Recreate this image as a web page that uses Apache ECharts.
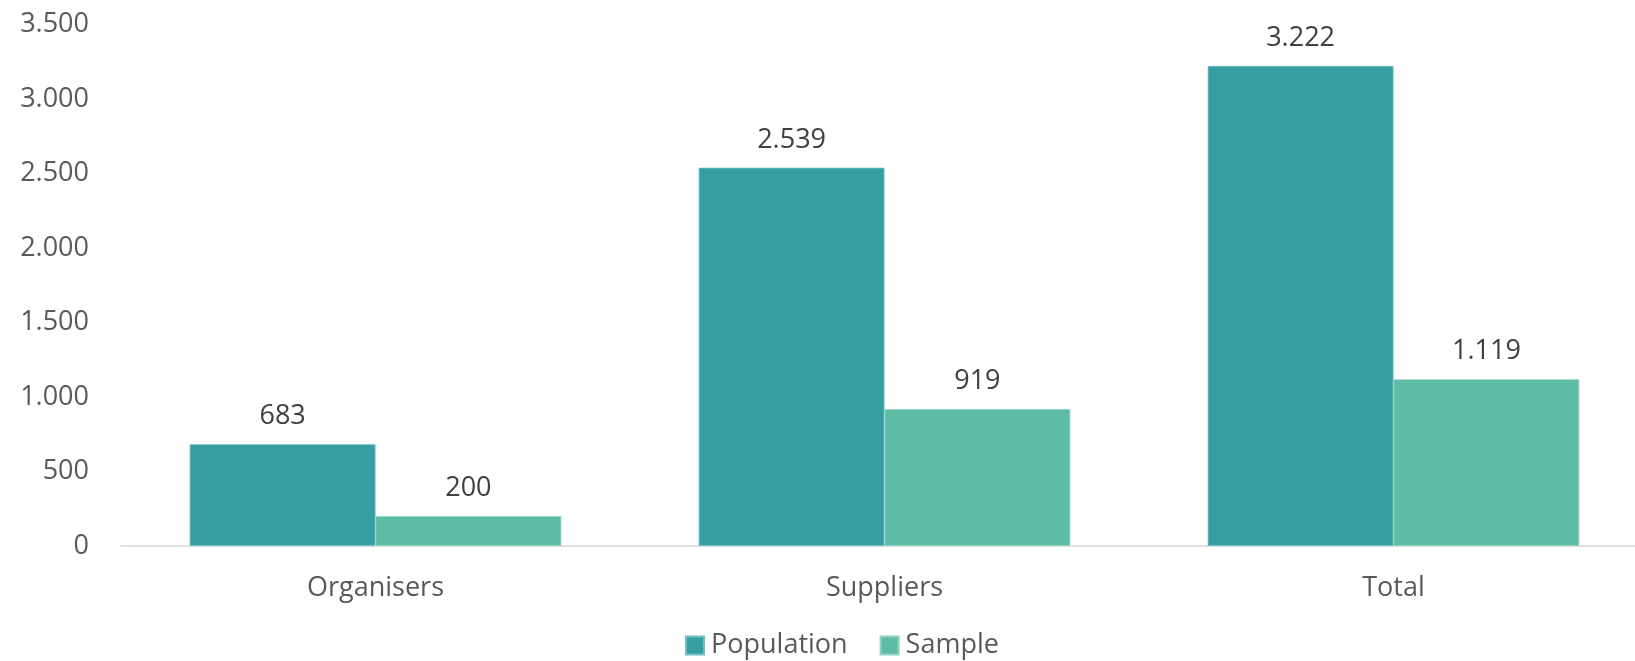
<!DOCTYPE html>
<html>
<head>
<meta charset="utf-8">
<script src="https://cdn.jsdelivr.net/npm/echarts@6/dist/echarts.min.js"></script>
<style>
html,body{margin:0;padding:0;background:#fff;overflow:hidden;width:1635px;height:661px;}
#chart{width:1660px;height:661px;}
</style>
</head>
<body>
<div id="chart"></div>
<script>
const categories = ['Organisers', 'Suppliers', 'Total'];
const populationValues = [683, 2539, 3222];
const sampleValues = [200, 919, 1119];
const seriesNames = ['Population', 'Sample'];
const yTicks = [0, 500, 1000, 1500, 2000, 2500, 3000, 3500];

const FONT = '"Open Sans", "Noto Sans", sans-serif';
function fmt(v) {
  return String(Math.round(v)).replace(/\B(?=(\d{3})+(?!\d))/g, '.');
}

const chart = echarts.init(document.getElementById('chart'), null, {renderer: 'canvas'});
const labelCfg = {
  show: true,
  position: 'top',
  distance: 14,
  color: '#404040',
  fontSize: 27,
  fontFamily: FONT,
  formatter: p => fmt(p.value)
};
chart.setOption({
  animation: false,
  backgroundColor: '#ffffff',
  grid: {left: 121, top: 24.5, width: 1527, height: 521.5, containLabel: false},
  legend: {
    data: seriesNames,
    left: 680,
    top: 627,
    itemWidth: 18,
    itemHeight: 18,
    itemGap: 32,
    icon: 'rect',
    textStyle: {color: '#595959', fontSize: 27, fontFamily: FONT, padding: [0, 0, 0, 2]}
  },
  xAxis: {
    type: 'category',
    data: categories,
    axisLine: {lineStyle: {color: '#d9d9d9', width: 1.5}},
    axisTick: {show: false},
    axisLabel: {color: '#595959', fontSize: 27, fontFamily: FONT, margin: 29}
  },
  yAxis: {
    type: 'value',
    min: yTicks[0],
    max: yTicks[yTicks.length - 1],
    interval: yTicks[1] - yTicks[0],
    axisLine: {show: false},
    axisTick: {show: false},
    splitLine: {show: false},
    axisLabel: {color: '#595959', fontSize: 27, fontFamily: FONT, margin: 32, formatter: v => fmt(v)}
  },
  series: [
    {
      name: seriesNames[0],
      type: 'bar',
      data: populationValues,
      barGap: '0%',
      barCategoryGap: '27%',
      itemStyle: {color: '#369EA2', borderColor: '#6cc0c2', borderWidth: 0.8},
      label: labelCfg
    },
    {
      name: seriesNames[1],
      type: 'bar',
      data: sampleValues,
      barGap: '0%',
      barCategoryGap: '27%',
      itemStyle: {color: '#5EBBA5', borderColor: '#8ed3c2', borderWidth: 0.8},
      label: labelCfg
    }
  ]
});
</script>
</body>
</html>
